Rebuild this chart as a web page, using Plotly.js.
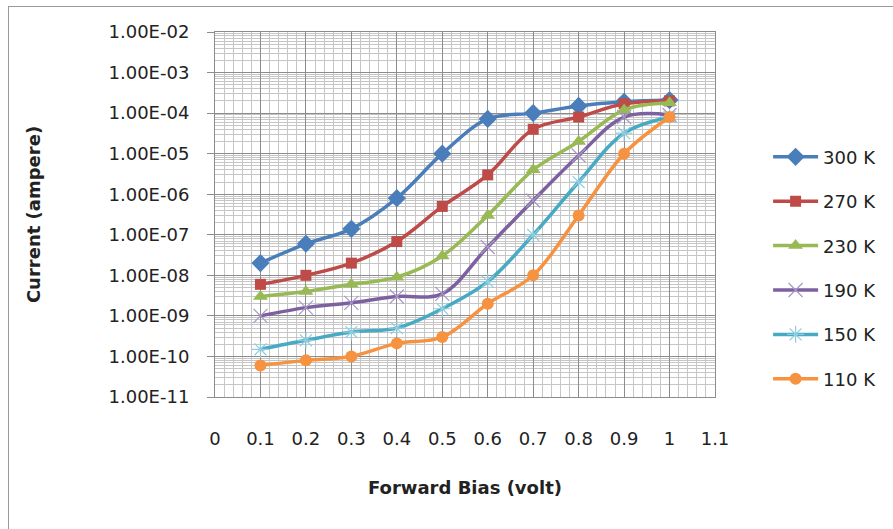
<!DOCTYPE html>
<html>
<head>
<meta charset="utf-8">
<script src="https://cdn.plot.ly/plotly-3.0.1.min.js"></script>
<style>
  html, body { margin: 0; padding: 0; background: #fff; }
  #frame { position: absolute; left: 8px; top: 6px; width: 890px; height: 530px; border-left: 1px solid #9a9a9a; border-top: 1px solid #9a9a9a; pointer-events: none; }
  #chart { width: 893px; height: 529px; }
</style>
</head>
<body>
<div id="chart"></div>
<div id="frame"></div>
<script>
// Forward bias (volt)
const bias = [0.1, 0.2, 0.3, 0.4, 0.5, 0.6, 0.7, 0.8, 0.9, 1.0];

// Current (ampere) per temperature
const i300 = [2e-8, 6e-8, 1.4e-7, 8e-7, 1e-5, 7.2e-5, 1e-4, 1.5e-4, 1.9e-4, 2.1e-4];
const i270 = [6e-9, 1e-8, 2e-8, 6.8e-8, 5e-7, 3e-6, 4e-5, 8e-5, 1.7e-4, 2e-4];
const i230 = [3e-9, 4e-9, 6e-9, 9e-9, 3e-8, 3e-7, 4e-6, 2e-5, 1.2e-4, 1.8e-4];
const i190 = [1e-9, 1.6e-9, 2.1e-9, 3e-9, 3.5e-9, 5e-8, 7e-7, 9e-6, 8e-5, 9e-5];
const i150 = [1.5e-10, 2.5e-10, 4e-10, 5e-10, 1.5e-9, 7e-9, 1e-7, 2e-6, 3.2e-5, 8e-5];
const i110 = [6e-11, 8e-11, 1e-10, 2.1e-10, 3e-10, 2e-9, 1e-8, 3e-7, 1e-5, 8e-5];

const seriesNames = ["300 K", "270 K", "230 K", "190 K", "150 K", "110 K"];

// Axis ticks
const xTickVals = [0, 0.1, 0.2, 0.3, 0.4, 0.5, 0.6, 0.7, 0.8, 0.9, 1, 1.1];
const xTickText = ["0", "0.1", "0.2", "0.3", "0.4", "0.5", "0.6", "0.7", "0.8", "0.9", "1", "1.1"];
const yTickVals = [1e-11, 1e-10, 1e-9, 1e-8, 1e-7, 1e-6, 1e-5, 1e-4, 1e-3, 1e-2];
const yTickText = ["1.00E-11", "1.00E-10", "1.00E-09", "1.00E-08", "1.00E-07", "1.00E-06", "1.00E-05", "1.00E-04", "1.00E-03", "1.00E-02"];

const styles = [
  {color: "#4A7EBB", symbol: "diamond", size: 14, mcolor: "#4A7EBB", lw: 0},
  {color: "#BE4B48", symbol: "square", size: 11, mcolor: "#BE4B48", lw: 0},
  {color: "#98B954", symbol: "triangle-up", size: 13, mcolor: "#98B954", lw: 0},
  {color: "#7D60A0", symbol: "x-thin-open", size: 14, mcolor: "#A898C8", lw: 1.2},
  {color: "#46AAC5", symbol: "asterisk-open", size: 14, mcolor: "#8FCCDD", lw: 1.2},
  {color: "#F69240", symbol: "circle", size: 12, mcolor: "#F69240", lw: 0}
];
const allY = [i300, i270, i230, i190, i150, i110];

const traces = allY.map((ys, k) => {
  const s = styles[k];
  return {
    x: bias, y: ys, name: seriesNames[k],
    type: "scatter", mode: "lines+markers",
    legendgroup: "g" + k,
    line: {color: s.color, width: 3.5, shape: "spline", smoothing: 1},
    marker: {symbol: s.symbol, size: s.size, color: s.mcolor,
             line: {color: s.mcolor, width: s.lw}}
  };
});

const font = "DejaVu Sans, sans-serif";

const layout = {
  width: 893, height: 529,
  margin: {l: 215, r: 177, t: 32, b: 132},
  paper_bgcolor: "#ffffff", plot_bgcolor: "#ffffff",
  showlegend: true,
  legend: {
    x: 1.104, xanchor: "left", y: 0.708, yanchor: "top",
    font: {family: font, size: 18, color: "#222"},
    tracegroupgap: 18, itemwidth: 45,
    bgcolor: "rgba(0,0,0,0)"
  },
  xaxis: {
    range: [0, 1.1], tickvals: xTickVals, ticktext: xTickText,
    ticks: "", ticklabelstandoff: 25,
    tickfont: {family: font, size: 18, color: "#222"},
    showgrid: true, gridcolor: "#8c8c8c", gridwidth: 1,
    minor: {dtick: 0.02, showgrid: true, gridcolor: "#c6c6c6", gridwidth: 1},
    showline: true, linecolor: "#8c8c8c", linewidth: 1, mirror: true,
    zeroline: false,
    title: {text: "Forward Bias (volt)", standoff: 33,
            font: {family: font, size: 18, color: "#222", weight: "bold"}}
  },
  yaxis: {
    type: "log", range: [-11, -2], tickvals: yTickVals, ticktext: yTickText,
    ticks: "outside", ticklen: 7, tickcolor: "#8c8c8c", ticklabelstandoff: 14,
    tickfont: {family: font, size: 18, color: "#222"},
    showgrid: true, gridcolor: "#8c8c8c", gridwidth: 1,
    minor: {dtick: "D1", showgrid: true, gridcolor: "#c6c6c6", gridwidth: 1, ticks: ""},
    showline: true, linecolor: "#8c8c8c", linewidth: 1, mirror: true,
    zeroline: false,
    title: {text: "Current (ampere)", standoff: 63,
            font: {family: font, size: 18, color: "#222", weight: "bold"}}
  }
};

Plotly.newPlot("chart", traces, layout, {displayModeBar: false, staticPlot: true});
</script>
</body>
</html>
